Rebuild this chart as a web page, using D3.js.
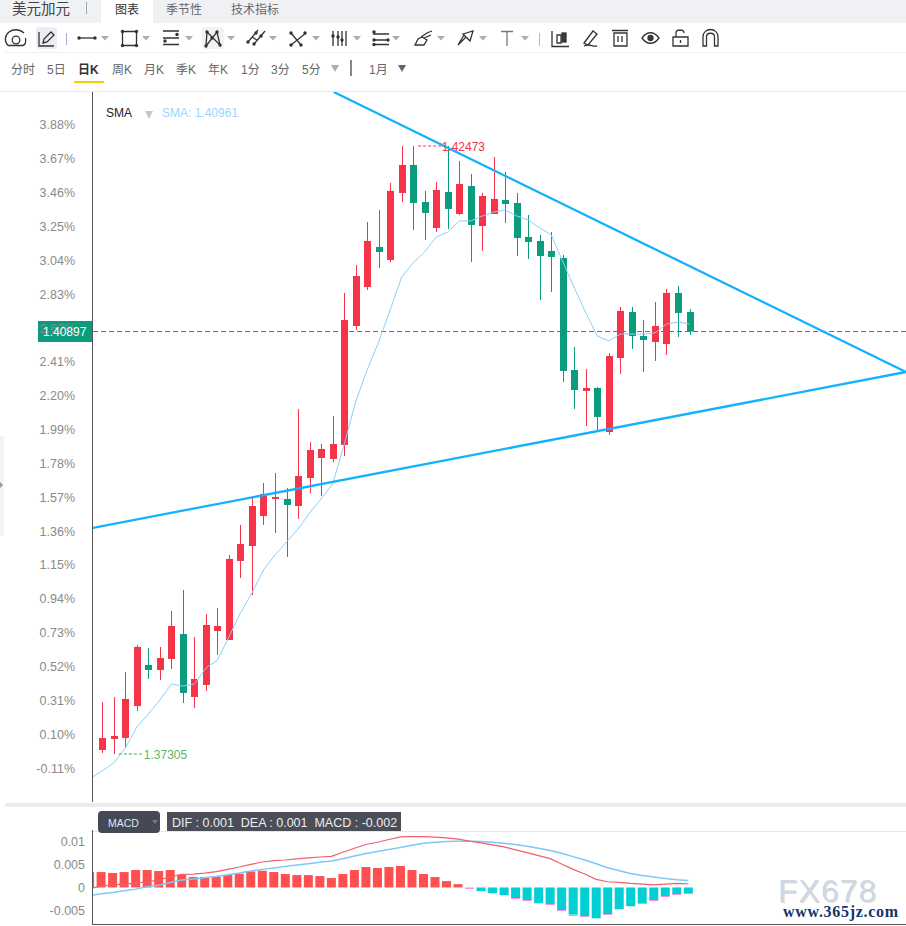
<!DOCTYPE html>
<html>
<head>
<meta charset="utf-8">
<script src="https://cdn.jsdelivr.net/npm/d3@7"></script>
<style>
html, body { margin: 0; padding: 0; background: #fff; overflow: hidden; }
svg { display: block; }
text { font-family: "Liberation Sans", "Noto Sans CJK SC", sans-serif; }
</style>
</head>
<body>
<script>
var width = 906, height = 926;

// candles, oldest first
var opens  = [1.37339,1.37433,1.37441,1.37713,1.38062,1.38019,1.38113,1.38325,1.37790,1.37892,1.38351,1.38274,1.38946,1.39073,1.39328,1.39473,1.39473,1.39413,1.39651,1.39821,1.39813,1.39932,1.40943,1.41275,1.41615,1.41504,1.42074,1.42312,1.41997,1.41776,1.42082,1.41895,1.42133,1.41793,1.41895,1.42014,1.41989,1.41700,1.41666,1.41581,1.41521,1.40569,1.40391,1.40416,1.40042,1.40671,1.41062,1.40858,1.40807,1.40790,1.41224,1.41062];
var highs  = [1.37747,1.37790,1.38002,1.38232,1.38206,1.38215,1.38521,1.38699,1.38300,1.38495,1.38546,1.38997,1.39252,1.39498,1.39609,1.39694,1.39566,1.40238,1.39957,1.39940,1.40178,1.41224,1.41462,1.41827,1.41929,1.42159,1.42473,1.42473,1.42091,1.42167,1.42473,1.42346,1.42235,1.42074,1.42380,1.42252,1.42074,1.41887,1.41717,1.41742,1.41547,1.40765,1.40578,1.40425,1.40714,1.41105,1.41105,1.40994,1.41147,1.41258,1.41283,1.41088];
var lows   = [1.37314,1.37305,1.37356,1.37671,1.37943,1.37934,1.38028,1.37739,1.37696,1.37841,1.38147,1.38274,1.38801,1.38657,1.39252,1.39184,1.38980,1.39303,1.39524,1.39498,1.39787,1.39838,1.40909,1.41249,1.41436,1.41487,1.41997,1.41759,1.41674,1.41742,1.41768,1.41887,1.41487,1.41581,1.41895,1.41819,1.41538,1.41513,1.41164,1.41232,1.40467,1.40238,1.40093,1.40042,1.40017,1.40535,1.40748,1.40552,1.40646,1.40697,1.40850,1.40867];
var closes = [1.37441,1.37458,1.37773,1.38215,1.38019,1.38121,1.38393,1.37824,1.37943,1.38402,1.38393,1.38963,1.39090,1.39413,1.39515,1.39490,1.39422,1.39668,1.39889,1.39898,1.39940,1.40994,1.41368,1.41666,1.41572,1.42091,1.42312,1.41989,1.41904,1.42099,1.41938,1.42150,1.41802,1.42048,1.42023,1.41980,1.41691,1.41657,1.41538,1.41530,1.40561,1.40399,1.40416,1.40170,1.40688,1.41071,1.40858,1.40824,1.40943,1.41224,1.41054,1.40897];

// first value belongs to the candle just left of the axis
var smaValues = [1.37101,1.37161,1.37229,1.37356,1.37535,1.37645,1.37764,1.37900,1.37883,1.37900,1.38036,1.38104,1.38300,1.38504,1.38674,1.38869,1.38997,1.39107,1.39218,1.39354,1.39473,1.39600,1.39932,1.40297,1.40569,1.40807,1.41079,1.41360,1.41479,1.41572,1.41700,1.41742,1.41836,1.41836,1.41878,1.41912,1.41929,1.41878,1.41844,1.41776,1.41717,1.41487,1.41266,1.41054,1.40858,1.40816,1.40875,1.40875,1.40875,1.40884,1.40960,1.40977,1.40961];

var macdValues = [0.00333,0.00333,0.00312,0.00333,0.00377,0.00377,0.00355,0.00377,0.00275,0.00225,0.00225,0.00232,0.00268,0.00297,0.00348,0.00362,0.00333,0.0029,0.00268,0.00268,0.00246,0.00203,0.0029,0.00377,0.00442,0.0042,0.00442,0.00464,0.00377,0.0029,0.00225,0.00138,0.00072,-0.00007,-0.0008,-0.00123,-0.00167,-0.00232,-0.00275,-0.00341,-0.00362,-0.00493,-0.00587,-0.00623,-0.00667,-0.0058,-0.00471,-0.00406,-0.00341,-0.00275,-0.00188,-0.00145,-0.00123];
var difValues = [-0.00022,0.00029,0.00058,0.00072,0.00094,0.00123,0.00159,0.00232,0.00283,0.0029,0.00312,0.00341,0.00391,0.00442,0.00500,0.00551,0.00580,0.00594,0.00616,0.00638,0.00659,0.00674,0.00761,0.00848,0.00928,0.00978,0.01036,0.01094,0.01101,0.01101,0.01087,0.01072,0.01043,0.01000,0.00964,0.00920,0.00877,0.00812,0.00754,0.00688,0.00623,0.00507,0.00391,0.0029,0.00174,0.00123,0.00109,0.00087,0.00072,0.00058,0.00072,0.00087,0.0008];
var deaValues = [-0.00174,-0.00138,-0.00109,-0.00072,-0.00036,0.00014,0.0005,0.00109,0.00159,0.00181,0.0021,0.00239,0.00275,0.00312,0.00355,0.00391,0.0042,0.00456,0.00485,0.00514,0.00543,0.00572,0.00623,0.00681,0.00732,0.00775,0.00819,0.00862,0.00913,0.00956,0.00978,0.00993,0.01,0.01,0.00993,0.00978,0.00956,0.00927,0.00891,0.00848,0.00797,0.00739,0.00667,0.00594,0.00514,0.00427,0.00362,0.00304,0.00261,0.00225,0.00196,0.00167,0.00152];
var macdPinkBars = [33,37,38,40,41,42,43,45,48,49,50,51,52];

var pctTicks = [3.88,3.67,3.46,3.25,3.04,2.83,2.62,2.41,2.20,1.99,1.78,1.57,1.36,1.15,0.94,0.73,0.52,0.31,0.10,-0.11];
var macdTicks = [0.01,0.005,0,-0.005];
var pctTopPrice = 1.42652, pctBottomPrice = 1.37186;
var lastPrice = 1.40897, maxPrice = 1.42473, minPrice = 1.37305;

// trend lines as [candle index, price]
var upperTrend = [[20.1,1.42932],[69.8,1.40552]];
var lowerTrend = [[-0.89,1.39226],[69.8,1.40552]];

var tabs = [["图表",127],["季节性",184],["技术指标",255]];
var periods = [["分时",11],["5日",47],["日K",78],["周K",112],["月K",144],["季K",176],["年K",208],["1分",241],["3分",271],["5分",302]];

var svg = d3.select("body").append("svg")
    .attr("width", width)
    .attr("height", height);

var xScale = d3.scaleLinear().domain([0, 51]).range([102.3, 689.5]);
var yScale = d3.scaleLinear().domain([minPrice, maxPrice]).range([754, 146]);
var pctScale = d3.scaleLinear()
    .domain([-0.11, 3.88])
    .range([yScale(pctBottomPrice), yScale(pctTopPrice)]);
var macdX = function(i) { return xScale(i - 1) - 1.2; };
var macdY = d3.scaleLinear().domain([-0.005, 0.01]).range([910.6, 841.2]);

var red = "#f5344a", green = "#0b9c7d";

// ---- header
svg.append("rect").attr("width", width).attr("height", 23).attr("fill", "#f0f1f5");
svg.append("rect").attr("x", 101).attr("width", 52).attr("height", 23).attr("fill", "#fff");
svg.append("text").attr("x", 12).attr("y", 14).attr("font-size", 14.5).attr("fill", "#444").text("美元加元");
svg.append("line").attr("x1", 86.5).attr("x2", 86.5).attr("y1", 2).attr("y2", 14).attr("stroke", "#9aa3b5");
svg.selectAll(".tab").data(tabs).enter().append("text")
    .attr("class", "tab")
    .attr("x", function(d) { return d[1]; })
    .attr("y", 14)
    .attr("text-anchor", "middle")
    .attr("font-size", 12)
    .attr("fill", function(d, i) { return i == 0 ? "#333" : "#666"; })
    .text(function(d) { return d[0]; });

// ---- toolbar
svg.append("line").attr("x1", 5).attr("x2", width).attr("y1", 52.5).attr("y2", 52.5).attr("stroke", "#eeeff2");
svg.append("line").attr("x1", 0).attr("x2", width).attr("y1", 91.5).attr("y2", 91.5).attr("stroke", "#e8e8e8");
svg.append("rect").attr("x", 36).attr("y", 27).attr("width", 21).attr("height", 22).attr("rx", 3).attr("fill", "#ecedf2");
svg.append("rect").attr("x", 202).attr("y", 27).attr("width", 22).attr("height", 22).attr("rx", 3).attr("fill", "#f2f2f2");
svg.append("line").attr("x1", 66.5).attr("x2", 66.5).attr("y1", 33).attr("y2", 45).attr("stroke", "#b7a9d0");
svg.append("line").attr("x1", 539.5).attr("x2", 539.5).attr("y1", 33).attr("y2", 46).attr("stroke", "#9fbde0");

var icons = svg.append("g").attr("fill", "none").attr("stroke", "#333").attr("stroke-width", 1.3);
var dot = function(x, y) { icons.append("circle").attr("cx", x).attr("cy", y).attr("r", 1.7).attr("fill", "#333").attr("stroke", "none"); };
var path = function(d) { icons.append("path").attr("d", d); };
// gauge
path("M8 45.5 A9.5 8.5 0 1 1 24 33 M8 45.5 H23 C25 45 26 42 25.5 38");
icons.append("circle").attr("cx", 16).attr("cy", 40).attr("r", 3.8);
// pencil
path("M39 32 V46 H54 M43 43 L44 39 L51 32 L54 35 L47 42 Z");
// line
path("M79 38 H95"); dot(79, 38); dot(95, 38);
// rect
path("M122.5 31.5 H136.5 V45.5 H122.5 Z"); dot(122.5, 31.5); dot(136.5, 31.5); dot(122.5, 45.5); dot(136.5, 45.5);
// horizontal lines
path("M163 31 H179 M163 38 H179 M163 44.5 H179"); dot(177, 34.5); dot(165, 41);
// xabcd
path("M206 46 L207 32 L220 45 L217 32 L206 46"); dot(207, 32); dot(206, 46); dot(217, 32); dot(220, 45); dot(212, 38);
// parallel
path("M248 42 L258 30 M254 44 L265 31 M252 37 L257 40"); dot(248, 42); dot(256, 33); dot(254, 44); dot(261, 36);
// cross
path("M291 33 L301 45 M291 45 L306 33"); dot(291, 33); dot(301, 45); dot(291, 45); dot(305, 33);
// pitch
path("M333 31 V46 M338 31 V46 M342 31 V46 M346 31 V46"); dot(338, 37); dot(342, 40); dot(333, 36);
// fib
path("M373 34 H389 M373 40 H389 M373 44.5 H389"); dot(374, 32); dot(374, 40); dot(374, 44.5); dot(388, 40);
// brush
path("M415 45 L418 39 L422 37 L427 40 L424 45 Z M421 37 L427 33 L432 31 M424 38 L431 35");
// arrow
path("M458 45 L466 37 M463 34 L473 31 L470 41 Z M458 45 L464 35");
// T
icons.append("path").attr("d", "M501 31.5 H513 M507 31.5 V46").attr("stroke", "#777");
// candles
path("M552 31 V46.5 H569 M557 35 H561 V43 H557 Z"); icons.append("rect").attr("x", 562).attr("y", 33).attr("width", 4).attr("height", 9).attr("fill", "#3c3c3c");
// pencil 2
path("M584 43 L593 31 L597 34 L588 45 Z M584 46 C590 43 592 47 597 46");
// trash
path("M612 30.5 H628 M614 33 H627 V46 H614 Z M618 36 V42 M622 36 V42");
// eye
path("M642 38 C647 31 654 31 659 38 C654 45 647 45 642 38 Z");
icons.append("circle").attr("cx", 650.5).attr("cy", 38).attr("r", 2.5).attr("fill", "#3c3c3c");
// lock
path("M673 37 H688 V46 H673 Z M676 37 V33 C676 29 684 29 684 33 M680.5 40 V43");
// magnet
path("M703 46 V37 C703 27 718 27 718 37 V46 H714.5 V37 C714.5 32 706.5 32 706.5 37 V46 Z");

var carets = [105,146,189,231,273,316,357,396,441,483,525];
svg.selectAll(".caret").data(carets).enter().append("path")
    .attr("class", "caret")
    .attr("d", function(d) { return "M" + (d - 4) + " 36 H" + (d + 4) + " L" + d + " 40.5 Z"; })
    .attr("fill", "#a9acbd");

// ---- period bar
svg.selectAll(".period").data(periods).enter().append("text")
    .attr("class", "period")
    .attr("x", function(d) { return d[1]; })
    .attr("y", 74)
    .attr("font-size", 12)
    .attr("font-weight", function(d) { return d[0] == "日K" ? "bold" : "normal"; })
    .attr("fill", function(d) { return d[0] == "日K" ? "#333" : "#666"; })
    .text(function(d) { return d[0]; });
svg.append("rect").attr("x", 74).attr("y", 81).attr("width", 30).attr("height", 2).attr("fill", "#f5d000");
svg.append("path").attr("d", "M331 65 H339 L335 72 Z").attr("fill", "#a9acbd");
svg.append("line").attr("x1", 351).attr("x2", 351).attr("y1", 60).attr("y2", 76).attr("stroke", "#111");
svg.append("text").attr("x", 369).attr("y", 74).attr("font-size", 12).attr("fill", "#666").text("1月");
svg.append("path").attr("d", "M398 65 H406 L402 72 Z").attr("fill", "#666");

// ---- clip areas
var defs = svg.append("defs");
defs.append("clipPath").attr("id", "main-clip").append("rect")
    .attr("x", 93).attr("y", 92).attr("width", width - 93).attr("height", 710);
defs.append("clipPath").attr("id", "macd-clip").append("rect")
    .attr("x", 93).attr("y", 831).attr("width", width - 93).attr("height", 93);

// ---- price axis
var lastY = Math.floor(yScale(lastPrice)) + 0.5;
svg.append("rect").attr("x", 38).attr("y", lastY - 10.5).attr("width", 54).attr("height", 21).attr("fill", green);

var pctAxis = d3.axisLeft(pctScale)
    .tickValues(pctTicks)
    .tickSize(0)
    .tickPadding(0)
    .tickFormat(function(d) { return d.toFixed(2) + "%"; });
var pctG = svg.append("g").attr("transform", "translate(75,0)").call(pctAxis);
pctG.select(".domain").remove();
pctG.selectAll("text").attr("font-size", 12.5).attr("fill", "#8a8a8a").attr("font-family", "'Liberation Sans'");

svg.append("line").attr("x1", 92.5).attr("x2", 92.5).attr("y1", 92).attr("y2", 802).attr("stroke", "#555");

// last price marker
svg.append("text").attr("x", 43).attr("y", lastY + 4.5).attr("font-size", 12).attr("fill", "#fff").text(lastPrice.toFixed(5));
svg.append("line")
    .attr("x1", 93).attr("x2", width)
    .attr("y1", lastY).attr("y2", lastY)
    .attr("stroke", green).attr("stroke-dasharray", "5,3");

// ---- main plot
var plot = svg.append("g").attr("clip-path", "url(#main-clip)");
var candleData = opens.map(function(o, i) {
    return { i: i, open: o, high: highs[i], low: lows[i], close: closes[i] };
});
var colour = function(d) { return d.close >= d.open ? red : green; };

plot.selectAll(".wick").data(candleData).enter().append("line")
    .attr("class", "wick")
    .attr("x1", function(d) { return Math.round(xScale(d.i)) + 0.5; })
    .attr("x2", function(d) { return Math.round(xScale(d.i)) + 0.5; })
    .attr("y1", function(d) { return yScale(d.high); })
    .attr("y2", function(d) { return yScale(d.low); })
    .attr("stroke", colour);
plot.selectAll(".candle").data(candleData).enter().append("rect")
    .attr("class", "candle")
    .attr("x", function(d) { return Math.round(xScale(d.i)) - 3; })
    .attr("y", function(d) { return yScale(Math.max(d.open, d.close)); })
    .attr("width", 7)
    .attr("height", function(d) { return Math.max(1, yScale(Math.min(d.open, d.close)) - yScale(Math.max(d.open, d.close))); })
    .attr("fill", colour);

var smaLine = d3.line()
    .x(function(d, i) { return xScale(i - 1); })
    .y(function(d) { return yScale(d); });
plot.append("path").datum(smaValues)
    .attr("d", smaLine)
    .attr("fill", "none")
    .attr("stroke", "#8acffb")
    .attr("stroke-width", 1);

var trendLine = d3.line()
    .x(function(d) { return xScale(d[0]); })
    .y(function(d) { return yScale(d[1]); });
[upperTrend, lowerTrend].forEach(function(t) {
    plot.append("path").datum(t)
        .attr("d", trendLine)
        .attr("fill", "none")
        .attr("stroke", "#14b1ff")
        .attr("stroke-width", 2.3);
});

// high / low callouts
svg.append("line").attr("x1", xScale(27) + 5).attr("x2", xScale(27) + 28)
    .attr("y1", yScale(maxPrice)).attr("y2", yScale(maxPrice))
    .attr("stroke", red).attr("stroke-dasharray", "3,2");
svg.append("text").attr("x", xScale(27) + 28.5).attr("y", yScale(maxPrice) + 4.5).attr("font-size", 12).attr("fill", red).text(maxPrice.toFixed(5));
svg.append("line").attr("x1", xScale(1) + 5).attr("x2", xScale(1) + 29)
    .attr("y1", yScale(minPrice)).attr("y2", yScale(minPrice))
    .attr("stroke", "#3cab4a").attr("stroke-dasharray", "3,2");
svg.append("text").attr("x", xScale(1) + 30).attr("y", yScale(minPrice) + 4.5).attr("font-size", 12).attr("fill", "#5fb56a").text(minPrice.toFixed(5));

// SMA legend
svg.append("text").attr("x", 106).attr("y", 117).attr("font-size", 12).attr("fill", "#222").text("SMA");
svg.append("path").attr("d", "M145 111 H153 L149 119 Z").attr("fill", "#c3c7d4");
svg.append("text").attr("x", 162).attr("y", 117).attr("font-size", 12).attr("fill", "#9ad4ff")
    .text("SMA: " + smaValues[smaValues.length - 1].toFixed(5));

// left side handle
svg.append("rect").attr("x", 0).attr("y", 436).attr("width", 4).attr("height", 100).attr("fill", "#f2f3f5");
svg.append("path").attr("d", "M0 482 L3 485 L0 488 Z").attr("fill", "#999");

// ---- MACD panel
svg.append("rect").attr("x", 5).attr("y", 803).attr("width", width - 5).attr("height", 4).attr("fill", "#ebebeb");
svg.append("line").attr("x1", 93).attr("x2", width).attr("y1", 831.5).attr("y2", 831.5).attr("stroke", "#e6e6e6");
svg.append("line").attr("x1", 92.5).attr("x2", 92.5).attr("y1", 830).attr("y2", 925).attr("stroke", "#555");
svg.append("line").attr("x1", 92).attr("x2", width).attr("y1", 924.5).attr("y2", 924.5).attr("stroke", "#555");

var macdAxis = d3.axisLeft(macdY)
    .tickValues(macdTicks)
    .tickSize(0)
    .tickPadding(0)
    .tickFormat(function(d) { return String(d); });
var macdG = svg.append("g").attr("transform", "translate(85,0)").call(macdAxis);
macdG.select(".domain").remove();
macdG.selectAll("text").attr("font-size", 12.5).attr("fill", "#8a8a8a").attr("font-family", "'Liberation Sans'");

var macdPlot = svg.append("g").attr("clip-path", "url(#macd-clip)");
macdPlot.selectAll(".bar").data(macdValues).enter().append("rect")
    .attr("class", "bar")
    .attr("x", function(d, i) { return macdX(i) - 4.5; })
    .attr("y", function(d) { return d > 0 ? macdY(d) : macdY(0); })
    .attr("width", 9)
    .attr("height", function(d) { return Math.abs(macdY(d) - macdY(0)); })
    .attr("fill", function(d) { return d > 0 ? "#ff4f4f" : "#00d0d4"; });
macdPlot.selectAll(".pink").data(macdPinkBars).enter().append("rect")
    .attr("class", "pink")
    .attr("x", function(d) { return macdX(d) - 4.5; })
    .attr("y", function(d) { return Math.round(macdY(macdValues[d])); })
    .attr("width", 9)
    .attr("height", 1)
    .attr("fill", "#f98fe4");

var macdLine = d3.line()
    .x(function(d, i) { return macdX(i); })
    .y(function(d) { return macdY(d); });
macdPlot.append("path").datum(deaValues).attr("d", macdLine).attr("fill", "none").attr("stroke", "#7cc8f8").attr("stroke-width", 1.5);
macdPlot.append("path").datum(difValues).attr("d", macdLine).attr("fill", "none").attr("stroke", "#ee6070").attr("stroke-width", 1.2);

// MACD legend
svg.append("rect").attr("x", 98).attr("y", 811).attr("width", 62).attr("height", 22).attr("rx", 4).attr("fill", "#454955");
svg.append("text").attr("x", 108).attr("y", 827).attr("font-size", 10.5).attr("fill", "#dce8f5").text("MACD");
svg.append("path").attr("d", "M152 820 H158 L155 824 Z").attr("fill", "#777b86");
svg.append("rect").attr("x", 167).attr("y", 812).attr("width", 234).attr("height", 19).attr("fill", "#4a4e58");
svg.append("text").attr("x", 172).attr("y", 827).attr("font-size", 12.5).attr("fill", "#eee").attr("xml:space", "preserve")
    .text("DIF : 0.001  DEA : 0.001  MACD : -0.002");

// watermark
svg.append("text").attr("x", 778).attr("y", 902).attr("font-size", 32).attr("letter-spacing", 1)
    .attr("fill", "#ccd8e8").style("font-family", "'Liberation Sans'")
    .style("filter", "drop-shadow(1px 1px 0 #e2d9cf)").text("FX678");
svg.append("text").attr("x", 783).attr("y", 916.5).attr("font-size", 16).attr("font-weight", "bold").attr("letter-spacing", 0.7)
    .attr("fill", "#12346b").style("font-family", "'Liberation Serif'").text("www.365jz.com");
</script>
</body>
</html>
